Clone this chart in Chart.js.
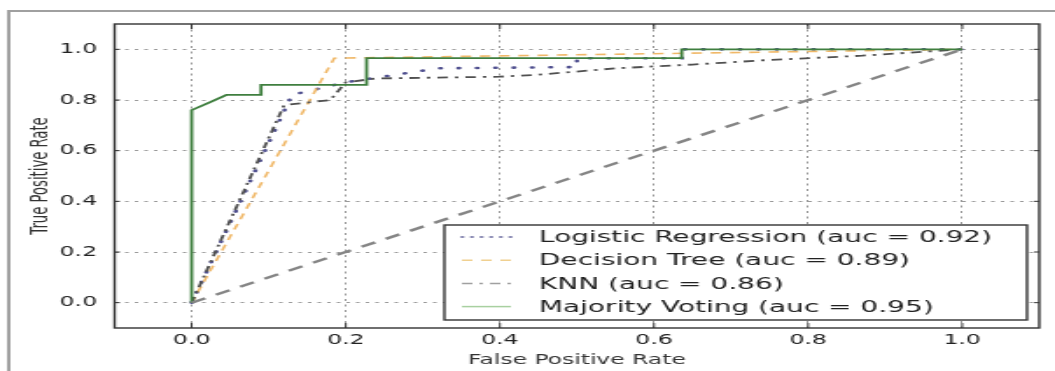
<!DOCTYPE html>
<html>
<head>
<meta charset="utf-8">
<script src="https://cdn.jsdelivr.net/npm/chart.js@4.4.1/dist/chart.umd.min.js"></script>
<style>
  html, body { margin: 0; padding: 0; background: #fff; overflow: hidden; }
  /* the source picture is a horizontally stretched matplotlib figure */
  #wrap { width: 603px; height: 371px; transform: scaleX(1.7496); transform-origin: 0 0; }
</style>
</head>
<body>
<div id="wrap"><canvas id="roc" width="603" height="371"></canvas></div>
<script>
// ROC curves
var tickValues = [0, 0.2, 0.4, 0.6, 0.8, 1.0];
var seriesLabels = [
    "Logistic Regression (auc = 0.92)",
    "Decision Tree (auc = 0.89)",
    "KNN (auc = 0.86)",
    "Majority Voting (auc = 0.95)"
];
var lrFpr = [0, 0.13, 0.2, 0.32, 0.5, 0.5, 0.636, 0.636, 1.0];
var lrTpr = [0, 0.82, 0.87, 0.925, 0.93, 0.965, 0.965, 1.0, 1.0];
var dtFpr = [0, 0.185, 1.0];
var dtTpr = [0, 0.965, 1.0];
var knnFpr = [0, 0.12, 0.18, 0.2, 0.24, 0.4, 0.45, 0.55, 0.65, 0.75, 0.87, 1.0];
var knnTpr = [0, 0.78, 0.8, 0.87, 0.885, 0.892, 0.9, 0.925, 0.94, 0.958, 0.975, 1.0];
var mvFpr = [0, 0, 0.023, 0.045, 0.09, 0.09, 0.227, 0.227, 0.636, 0.636, 1.0];
var mvTpr = [0, 0.76, 0.79, 0.82, 0.82, 0.86, 0.86, 0.965, 0.965, 1.0, 1.0];
var chanceFpr = [0, 1];
var chanceTpr = [0, 1];

function pts(xs, ys) {
    return xs.map(function (x, i) { return { x: x, y: ys[i] }; });
}

var FONT = "'DejaVu Sans', sans-serif";

// axes frame, inner ticks, outer border and the legend box
var framePlugin = {
    id: "framePlugin",
    beforeDraw: function (chart) {
        var ctx = chart.ctx;
        ctx.save();
        ctx.strokeStyle = "#a0a0a0";
        ctx.lineWidth = 2;
        ctx.strokeRect(5, 11, 700, 500);
        ctx.restore();
    },
    afterDatasetsDraw: function (chart) {
        var ctx = chart.ctx, a = chart.chartArea;
        var xs = chart.scales.x, ys = chart.scales.y;
        ctx.save();
        ctx.strokeStyle = "#333";
        ctx.lineWidth = 1.4;
        ctx.strokeRect(a.left, a.top, a.right - a.left, a.bottom - a.top);
        ctx.lineWidth = 1;
        tickValues.forEach(function (v) {
            var px = xs.getPixelForValue(v), py = ys.getPixelForValue(v);
            ctx.beginPath();
            ctx.moveTo(px, a.bottom); ctx.lineTo(px, a.bottom - 5);
            ctx.moveTo(px, a.top); ctx.lineTo(px, a.top + 5);
            ctx.moveTo(a.left, py); ctx.lineTo(a.left + 3, py);
            ctx.moveTo(a.right, py); ctx.lineTo(a.right - 3, py);
            ctx.stroke();
        });

        // legend
        var w = 333, h = 95;
        var right = a.right - 7, bottom = a.bottom - 8;
        var left = right - w, top = bottom - h;
        ctx.fillStyle = "#fff";
        ctx.fillRect(left, top, w, h);
        ctx.strokeStyle = "#333";
        ctx.lineWidth = 1.4;
        ctx.strokeRect(left, top, w, h);
        var row = 0;
        chart.data.datasets.forEach(function (ds) {
            if (!ds.label) return;
            var y = top + 12 + row * 23.2;
            ctx.save();
            ctx.strokeStyle = ds.legendColor || ds.borderColor;
            ctx.lineWidth = ds.borderCapStyle === "round" ? 2 : 1.5;
            ctx.lineCap = ds.borderCapStyle || "butt";
            ctx.setLineDash(ds.borderCapStyle === "round" ? [0.5, 5] : (ds.borderDash || []));
            ctx.beginPath();
            ctx.moveTo(left + 10, y);
            ctx.lineTo(left + 38, y);
            ctx.stroke();
            ctx.restore();
            ctx.fillStyle = "#222";
            ctx.font = "16px " + FONT;
            ctx.textBaseline = "middle";
            ctx.fillText(ds.label, left + 54, y + 1);
            row++;
        });
        ctx.restore();
    }
};

new Chart("roc", {
    type: "scatter",
    data: {
        datasets: [{
            label: seriesLabels[0],
            data: pts(lrFpr, lrTpr),
            showLine: true,
            borderColor: "#50508f",
            legendColor: "#8484b0",
            borderWidth: 2.6,
            borderCapStyle: "round",
            borderDash: [0.5, 10],
            pointRadius: 0,
            order: 4
        }, {
            label: seriesLabels[1],
            data: pts(dtFpr, dtTpr),
            showLine: true,
            borderColor: "#f0b868",
            legendColor: "#f0d090",
            borderWidth: 1.6,
            borderDash: [6, 5],
            pointRadius: 0,
            order: 3
        }, {
            label: seriesLabels[2],
            data: pts(knnFpr, knnTpr),
            showLine: true,
            borderColor: "#505050",
            legendColor: "#a0a0a0",
            borderWidth: 1.8,
            borderDash: [6, 4, 2, 4],
            pointRadius: 0,
            order: 2
        }, {
            label: seriesLabels[3],
            data: pts(mvFpr, mvTpr),
            showLine: true,
            borderColor: "#3f7f3f",
            legendColor: "#a8d0a0",
            borderWidth: 1.8,
            pointRadius: 0,
            order: 1
        }, {
            data: pts(chanceFpr, chanceTpr),
            showLine: true,
            borderColor: "#858585",
            borderWidth: 2.4,
            borderDash: [9, 7],
            pointRadius: 0,
            order: 0
        }]
    },
    options: {
        responsive: false,
        animation: false,
        devicePixelRatio: 1,
        layout: { padding: { left: 0, top: 24, right: 9, bottom: 0 } },
        plugins: {
            legend: { display: false },
            tooltip: { enabled: false }
        },
        scales: {
            x: {
                type: "linear",
                min: -0.1,
                max: 1.1,
                afterFit: function (s) { s.height = 43; },
                afterBuildTicks: function (s) {
                    s.ticks = tickValues.map(function (v) { return { value: v }; });
                },
                grid: { color: "#9a9a9a", lineWidth: 1, drawTicks: false, borderDash: [2, 3.5] },
                border: { display: false, dash: [2, 3.5] },
                ticks: {
                    padding: 4,
                    color: "#222",
                    font: { family: FONT, size: 13.5 },
                    callback: function (v) { return v.toFixed(1); }
                },
                title: {
                    display: true,
                    text: "False Positive Rate",
                    color: "#333",
                    font: { family: FONT, size: 13.4 },
                    padding: { top: 0, bottom: 2 }
                }
            },
            y: {
                type: "linear",
                min: -0.1,
                max: 1.1,
                afterFit: function (s) { s.width = 65.5; },
                afterBuildTicks: function (s) {
                    s.ticks = tickValues.map(function (v) { return { value: v }; });
                },
                grid: { color: "#9a9a9a", lineWidth: 1, drawTicks: false, borderDash: [2, 3.5] },
                border: { display: false, dash: [2, 3.5] },
                ticks: {
                    padding: 10,
                    color: "#222",
                    font: { family: FONT, size: 13.5 },
                    callback: function (v) { return v.toFixed(1); }
                },
                title: {
                    display: true,
                    text: "True Positive Rate",
                    color: "#333",
                    font: { family: FONT, size: 13.2 },
                    padding: { top: 16, bottom: 0 }
                }
            }
        }
    },
    plugins: [framePlugin]
});
</script>
</body>
</html>
